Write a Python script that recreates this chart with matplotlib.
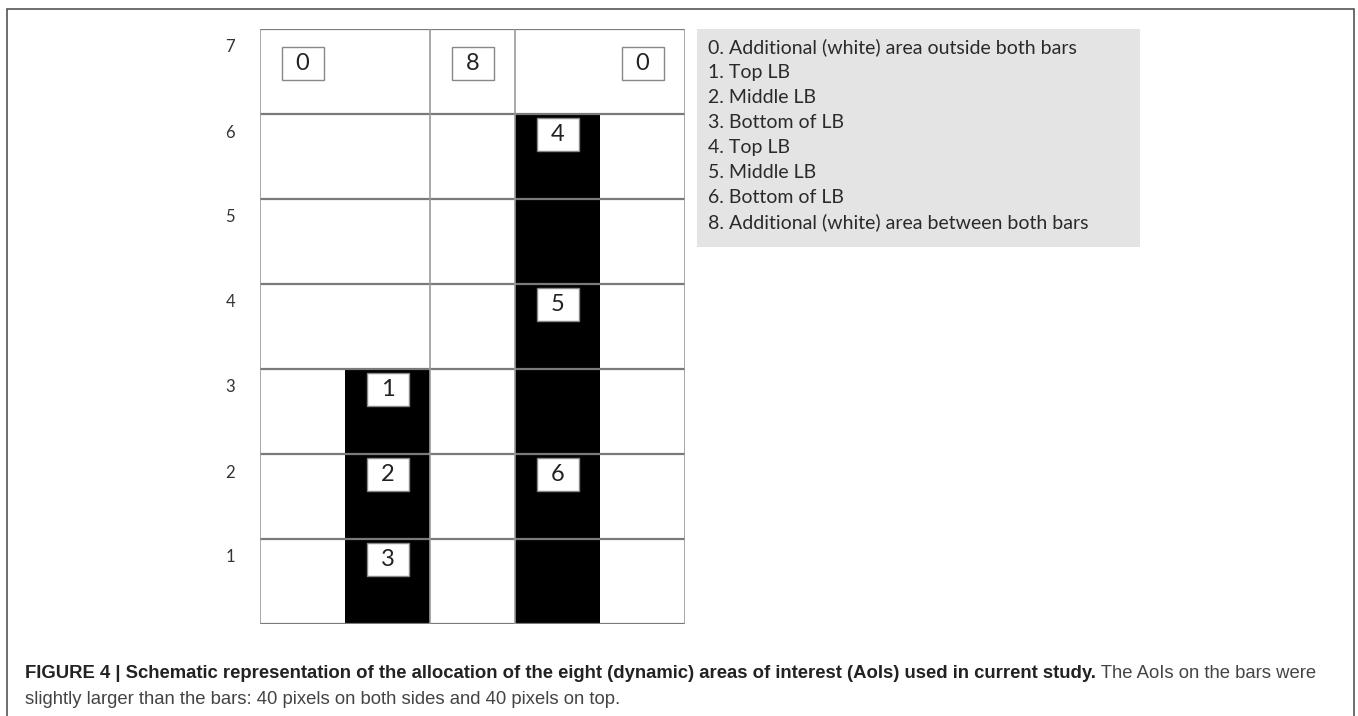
import matplotlib
matplotlib.use("Agg")
import matplotlib.pyplot as plt
from matplotlib.patches import Rectangle

# grid layout: 5 columns, 7 rows
n_cols = 5
n_rows = 7
row_labels = ['1', '2', '3', '4', '5', '6', '7']

# the two bars (column index, height in rows)
bar_cols = [1, 3]
bar_heights = [3, 6]

# AoI number boxes
aoi_labels = ['0', '8', '0', '4', '5', '6', '1', '2', '3']
aoi_cols = [0, 2, 4, 3, 3, 3, 1, 1, 1]
aoi_rows = [7, 7, 7, 6, 4, 2, 3, 2, 1]

legend_items = [
    '0. Additional (white) area outside both bars',
    '1. Top LB',
    '2. Middle LB',
    '3. Bottom of LB',
    '4. Top LB',
    '5. Middle LB',
    '6. Bottom of LB',
    '8. Additional (white) area between both bars',
]

caption_bold = ('FIGURE 4 | Schematic representation of the allocation of the eight '
                '(dynamic) areas of interest (AoIs) used in current study.')
caption_rest = ' The AoIs on the bars were'
caption_line2 = 'slightly larger than the bars: 40 pixels on both sides and 40 pixels on top.'

W, H = 1358, 716
fig = plt.figure(figsize=(W / 100, H / 100), dpi=100)
fig.patch.set_facecolor('white')

label_font = ['Lato', 'DejaVu Sans']
cap_font = ['Liberation Sans Narrow', 'Liberation Sans', 'DejaVu Sans']

# outer frame
fig.patches.append(Rectangle((7 / W, -0.05), (1354 - 7) / W, 1.05 - 9 / H,
                             transform=fig.transFigure, fill=False,
                             edgecolor='#555555', linewidth=1.2))

# main grid axes
ax = fig.add_axes([260 / W, (H - 624) / H, 425 / W, 595 / H])
ax.set_xlim(0, n_cols)
ax.set_ylim(0, n_rows)
for s in ax.spines.values():
    s.set_visible(False)

ax.bar([c + 0.5 for c in bar_cols], bar_heights, width=1.0, color='black', zorder=1)

ax.hlines(range(n_rows + 1), 0, n_cols, colors='#7a7a7a', linewidth=1.6, zorder=2)
ax.vlines([0, 2, 3, 5], 0, n_rows, colors='#9a9a9a', linewidth=1.2, zorder=2)

bw, bh = 42 / 85, 33 / 85
for lab, c, r in zip(aoi_labels, aoi_cols, aoi_rows):
    off = 0.21 if r == n_rows else 0.05
    top = r - off
    ax.add_patch(Rectangle((c + 0.5 - bw / 2, top - bh), bw, bh, facecolor='white',
                           edgecolor='#888888', linewidth=1.0, zorder=3))
    ax.text(c + 0.5, top - bh / 2, lab, ha='center', va='center', fontsize=17,
            color='#222222', family=label_font, zorder=4)

ax.set_xticks([])
ax.set_yticks([i - 0.2 for i in range(1, n_rows + 1)])
ax.set_yticklabels(row_labels, family=label_font, fontsize=12, color='#333333')
ax.tick_params(axis='y', length=0, pad=18)

# legend panel
lax = fig.add_axes([697 / W, (H - 247) / H, 443 / W, 218 / H])
lax.set_facecolor('#e4e4e4')
lax.set_xticks([])
lax.set_yticks([])
for s in lax.spines.values():
    s.set_visible(False)
for i, item in enumerate(legend_items):
    lax.text(11 / 443, 1 - (18 + 25.1 * i) / 218, item, ha='left', va='center',
             fontsize=14, color='#2a2a2a', family=label_font, transform=lax.transAxes)

# caption (bold part followed by regular text)
fig.canvas.draw()
r = fig.canvas.get_renderer()
fs = 13
t1 = fig.text(25 / W, (H - 674) / H, caption_bold, fontsize=fs, fontweight='bold',
              color='#222222', family=cap_font, va='center', ha='left')
t2 = fig.text(0, (H - 674) / H, caption_rest, fontsize=fs, color='#444444',
              family=cap_font, va='center', ha='left')
w1 = t1.get_window_extent(r).width
w2 = t2.get_window_extent(r).width
scale = (1318 - 25) / (w1 + w2)
fs = fs * scale
t1.set_fontsize(fs)
t2.set_fontsize(fs)
w1 = t1.get_window_extent(r).width
t2.set_x((25 + w1) / W)
fig.text(25 / W, (H - 700) / H, caption_line2, fontsize=fs, color='#444444',
         family=cap_font, va='center', ha='left')

fig.savefig('out.png', dpi=100)
